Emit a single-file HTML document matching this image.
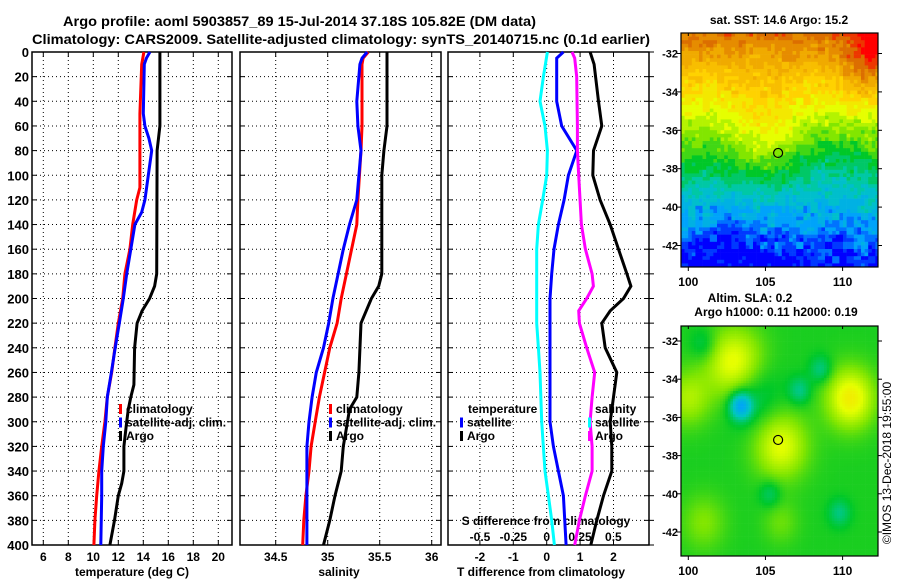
<!DOCTYPE html>
<html><head><meta charset="utf-8"><style>
body{margin:0;background:#fff;}
svg{display:block;font-family:"Liberation Sans",sans-serif;font-weight:bold;}
</style></head><body>
<svg id="chart" width="900" height="580" viewBox="0 0 900 580" xmlns="http://www.w3.org/2000/svg">
<rect width="900" height="580" fill="#fff"/>
<text x="63" y="26" font-size="14" textLength="473" lengthAdjust="spacingAndGlyphs">Argo profile: aoml 5903857_89 15-Jul-2014 37.18S 105.82E (DM data)</text>
<text x="32" y="44" font-size="14" textLength="618" lengthAdjust="spacingAndGlyphs">Climatology: CARS2009. Satellite-adjusted climatology: synTS_20140715.nc (0.1d earlier)</text>
<g id="g"></g>
</svg>
<script>
// ---- data ----
const tempDepths = [0,10,50,110,120,140,160,180,200,220,240,260,280,300,320,340,360,380,400];
const tempClim   = [14.05,13.87,13.73,13.73,13.47,13.15,12.93,12.53,12.35,12.0,11.73,11.47,11.12,10.93,10.67,10.45,10.27,10.13,10.05];
const tempSatDepths = [0,5,10,50,60,70,80,100,120,130,140,160,180,200,220,240,260,280,300,320,340,360,400];
const tempSat    = [14.53,14.25,14.08,14.0,14.13,14.45,14.67,14.4,14.13,13.87,13.33,13.0,12.67,12.4,12.08,11.75,11.45,11.12,11.0,10.8,10.67,10.67,10.6];
const tempArgoDepths = [0,60,80,180,190,200,210,220,240,270,280,290,300,320,340,350,360,380,400];
const tempArgo   = [15.33,15.33,15.1,15.07,14.9,14.5,13.9,13.5,13.3,13.25,13.0,12.8,12.67,12.45,12.45,12.27,12.0,11.7,11.33];
const salDepths = [0,5,10,40,60,80,120,140,160,180,200,220,240,260,280,300,320,340,360,380,400];
const salClim = [35.39,35.34,35.33,35.33,35.33,35.32,35.29,35.28,35.23,35.18,35.13,35.09,35.02,34.97,34.92,34.88,34.84,34.82,34.79,34.77,34.76];
const salSat  = [35.38,35.33,35.31,35.28,35.29,35.32,35.28,35.21,35.15,35.10,35.05,35.01,34.96,34.89,34.85,34.82,34.80,34.80,34.80,34.80,34.80];
const salArgoDepths = [0,60,80,100,180,190,200,220,260,280,290,300,320,340,360,380,400];
const salArgo = [35.57,35.57,35.54,35.52,35.52,35.49,35.42,35.32,35.30,35.28,35.21,35.19,35.15,35.13,35.07,35.02,34.96];
const dDepths = [0,10,40,60,80,100,120,140,160,180,190,200,210,220,240,260,280,300,320,340,360,380,400];
const dTArgo = [1.30,1.42,1.55,1.65,1.4,1.38,1.6,1.9,2.15,2.4,2.52,2.3,1.9,1.65,1.75,2.1,2.0,1.9,1.95,1.95,1.7,1.5,1.32];
const dTSatDepths = [0,5,40,60,80,100,120,140,160,180,200,260,300,320,340,360,400];
const dTSat = [0.5,0.3,0.3,0.45,0.9,0.65,0.52,0.35,0.22,0.15,0.1,0.1,0.1,0.2,0.35,0.5,0.58];
const dSDepths = [0,5,20,60,80,100,140,160,180,190,200,210,220,240,260,280,300,320,340,360,380,400];
const dSArgo = [0.19,0.21,0.225,0.23,0.23,0.24,0.26,0.29,0.34,0.35,0.30,0.24,0.245,0.30,0.36,0.34,0.325,0.34,0.34,0.29,0.245,0.21];
const dSSatDepths = [0,20,40,60,80,100,120,140,160,220,240,260,300,340,360,380,400];
const dSSat = [0.005,-0.025,-0.05,-0.0125,0.005,0,-0.03,-0.0625,-0.075,-0.075,-0.0625,-0.05,-0.0375,-0.0125,0.0125,0.0375,0.0575];
const depthTicks = [0,20,40,60,80,100,120,140,160,180,200,220,240,260,280,300,320,340,360,380,400];
const tempTicks = [6,8,10,12,14,16,18,20];
const salTicks = [34.5,35,35.5,36];
const dTTicks = [-2,-1,0,1,2];
const dSTicks = [-0.5,-0.25,0,0.25,0.5];
const dSTickLabels = ["-0.5","-0.25","0","0.25","0.5"];
const latTicks = [-32,-34,-36,-38,-40,-42];
const lonTicks = [100,105,110];

const NS="http://www.w3.org/2000/svg";
const G=document.getElementById('g');
function el(tag,attrs,parent){const e=document.createElementNS(NS,tag);for(const k in attrs)e.setAttribute(k,attrs[k]);(parent||G).appendChild(e);return e;}
const yTop=52,yBot=545;
const yD=d=>yTop+(d/400)*(yBot-yTop);
const P1={l:32,r:232}, P2={l:240,r:441}, P3={l:448,r:649};
const xT=v=>43.3+(v-6)*12.5;
const xS=v=>275.7+(v-34.5)*104;
const xDT=v=>546.7+v*33.4;
const xDS=v=>546.7+v*133.4;

function grid(P,xs,xf){
  const g=el('g',{});
  
  
  xs.forEach(v=>el('line',{x1:xf(v),x2:xf(v),y1:yTop,y2:yBot,stroke:'#000','stroke-width':1,'stroke-dasharray':'1,3'},g));
  depthTicks.slice(1,-1).forEach(d=>el('line',{x1:P.l,x2:P.r,y1:yD(d),y2:yD(d),stroke:'#000','stroke-width':1,'stroke-dasharray':'1,3'},g));
  depthTicks.forEach(d=>{el('line',{x1:P.l,x2:P.l+5,y1:yD(d),y2:yD(d),stroke:'#000'},g);el('line',{x1:P.r-5,x2:P.r,y1:yD(d),y2:yD(d),stroke:'#000'},g);});
  xs.forEach(v=>{el('line',{x1:xf(v),x2:xf(v),y1:yBot-5,y2:yBot,stroke:'#000'},g);el('line',{x1:xf(v),x2:xf(v),y1:yTop,y2:yTop+5,stroke:'#000'},g);});
  const b=el('rect',{x:P.l,y:yTop,width:P.r-P.l,height:yBot-yTop,fill:'none',stroke:'#000','stroke-width':1.5});
  
  
}
function line(name,ds,vs,xf,color){
  const p=el('polyline',{points:ds.map((d,i)=>xf(vs[i]).toFixed(1)+','+yD(d).toFixed(1)).join(' '),fill:'none',stroke:color,'stroke-width':3});
  
  
}
function txt(name,x,y,s,size,anchor){
  const t=el('text',{x:x,y:y,'font-size':size||12,'text-anchor':anchor||'start'});
  t.textContent=s;
  
  
  return t;
}
function legMark(x,y,color){el('rect',{x:x,y:y-9,width:3,height:10,fill:color});}
const legY=[413,426.5,440];

// Panel 1
grid(P1,tempTicks,xT);
depthTicks.forEach(d=>txt('depth-tick-label',29,yD(d)+5,String(d),13,'end'));
tempTicks.forEach(v=>txt('temp-tick-label',xT(v),561,String(v),12,'middle'));
txt('x-axis-title-temperature',132,576,'temperature (deg C)',12,'middle');
line('temp-climatology',tempDepths,tempClim,xT,'#f00');
line('temp-satellite-adj',tempSatDepths,tempSat,xT,'#00f');
line('temp-argo',tempArgoDepths,tempArgo,xT,'#000');
[['climatology','#f00'],['satellite-adj. clim.','#00f'],['Argo','#000']].forEach((e,i)=>{legMark(119,legY[i],e[1]);txt('legend-entry',126,legY[i],e[0],12);});

// Panel 2
grid(P2,salTicks,xS);
salTicks.forEach(v=>txt('sal-tick-label',xS(v),561,String(v),12,'middle'));
txt('x-axis-title-salinity',339,576,'salinity',12,'middle');
line('sal-climatology',salDepths,salClim,xS,'#f00');
line('sal-satellite-adj',salDepths,salSat,xS,'#00f');
line('sal-argo',salArgoDepths,salArgo,xS,'#000');
[['climatology','#f00'],['satellite-adj. clim.','#00f'],['Argo','#000']].forEach((e,i)=>{legMark(329,legY[i],e[1]);txt('legend-entry',336,legY[i],e[0],12);});

// Panel 3
grid(P3,dTTicks,xDT);
depthTicks.forEach(d=>el('line',{x1:P3.r,x2:P3.r+5,y1:yD(d),y2:yD(d),stroke:'#000'}));
dTTicks.forEach(v=>txt('dt-tick-label',xDT(v),561,String(v),12,'middle'));
txt('x-axis-title-tdiff',541,576,'T difference from climatology',12,'middle');
txt('s-axis-title',546,525,'S difference from climatology',12,'middle');
dSTicks.forEach((v,i)=>txt('ds-tick-label',xDS(v),541,dSTickLabels[i],12,'middle'));
line('sdiff-satellite',dSSatDepths,dSSat,xDS,'#0ff');
line('tdiff-satellite',dTSatDepths,dTSat,xDT,'#00f');
line('sdiff-argo',dSDepths,dSArgo,xDS,'#f0f');
line('tdiff-argo',dDepths,dTArgo,xDT,'#000');
txt('legend-title-temperature',468,legY[0],'temperature',12);
legMark(460,legY[1],'#00f');txt('legend-entry',467,legY[1],'satellite',12);
legMark(460,legY[2],'#000');txt('legend-entry',467,legY[2],'Argo',12);
txt('legend-title-salinity',595,legY[0],'salinity',12);
legMark(588,legY[1],'#0ff');txt('legend-entry',595,legY[1],'satellite',12);
legMark(588,legY[2],'#f0f');txt('legend-entry',595,legY[2],'Argo',12);

// ---- maps ----
const stops=[[0,[0,0,255]],[0.14,[0,160,255]],[0.28,[0,200,190]],[0.4,[0,200,40]],[0.5,[130,230,0]],[0.6,[230,255,0]],[0.7,[255,210,0]],[0.8,[240,170,0]],[0.9,[220,110,0]],[1,[255,0,0]]];
function cmap(v){v=Math.max(0,Math.min(1,v));for(let i=1;i<stops.length;i++){if(v<=stops[i][0]){const a=stops[i-1],b=stops[i],t=(v-a[0])/(b[0]-a[0]);return 'rgb('+a[1].map((c,k)=>Math.round(c+(b[1][k]-c)*t)).join(',')+')';}}return 'rgb(255,0,0)';}
function hash(i,j){let h=(i*374761393+j*668265263)>>>0;h=((h^(h>>>13))*1274126177)>>>0;return ((h^(h>>>16))>>>0)/4294967296;}
function gauss(x,y,cx,cy,s){return Math.exp(-((x-cx)*(x-cx)+(y-cy)*(y-cy))/(2*s*s));}
function drawMap(name,top,bot,lat32y,pxDeg,field,cell){
  const mx0=681,mx1=878;
  const xL=lo=>688.3+(lo-100)*15.43;
  const yL=la=>lat32y+(-32-la)*pxDeg;
  const g=el('g',{});
  
  
  const nx=Math.ceil((mx1-mx0)/cell),ny=Math.ceil((bot-top)/cell);
  for(let i=0;i<nx;i++)for(let j=0;j<ny;j++){
    const px=mx0+i*cell,py=top+j*cell;
    const lo=100+(px+cell/2-688.3)/15.43, la=-32-(py+cell/2-lat32y)/pxDeg;
    el('rect',{x:px,y:py,width:Math.min(cell,mx1-px)+0.3,height:Math.min(cell,bot-py)+0.3,fill:cmap(field(lo,la,i,j))},g);
  }
  el('rect',{x:mx0,y:top,width:mx1-mx0,height:bot-top,fill:'none',stroke:'#000','stroke-width':1.2},g);
  latTicks.forEach(la=>{el('line',{x1:mx0-4,x2:mx0,y1:yL(la),y2:yL(la),stroke:'#000'},g);el('line',{x1:mx1,x2:mx1+4,y1:yL(la),y2:yL(la),stroke:'#000'},g);txt('lat-tick-label',678,yL(la)+4,String(la),11,'end');});
  lonTicks.forEach(lo=>{el('line',{x1:xL(lo),x2:xL(lo),y1:bot,y2:bot+4,stroke:'#000'},g);el('line',{x1:xL(lo),x2:xL(lo),y1:top,y2:top+3,stroke:'#000'},g);txt('lon-tick-label',xL(lo),bot+19,String(lo),12,'middle');});
  const c=el('circle',{cx:xL(105.82),cy:yL(-37.18),r:4.5,fill:'none',stroke:'#000','stroke-width':1.2},g);
  
  
}
function sst(lo,la,i,j){
  let v=0.82-(-32-la)*0.074;
  v+=0.12*gauss(lo,la,105,-36.2,1.5);
  v+=0.12*gauss(lo,la,111.5,-32.8,1.2)+0.12*gauss(lo,la,112,-31.5,0.8);
  v-=0.05*gauss(lo,la,109,-37.8,1.8);
  v-=0.06*gauss(lo,la,102,-42,2);
  const south=la<-40?0.14:0.05;
  v+=(hash(i,j)-0.5)*0.06+(hash(i>>1,j>>1)-0.5)*south;
  return Math.round(v*20)/20;
}
function sla(lo,la,i,j){
  let v=0.42;
  v+=0.2*gauss(lo,la,103,-33.2,1.3)+0.18*gauss(lo,la,106,-37.5,1.2)+0.22*gauss(lo,la,110.5,-35,1.1)+0.12*gauss(lo,la,100,-35,1);
  v+=0.08*gauss(lo,la,101,-41.5,1)+0.06*gauss(lo,la,106,-41.5,0.8);
  v-=0.25*gauss(lo,la,103.4,-35.4,0.5)+0.08*gauss(lo,la,104.2,-34.8,1.2);
  v-=0.1*gauss(lo,la,108.6,-33.5,0.5)+0.1*gauss(lo,la,107.2,-34.6,0.5)+0.08*gauss(lo,la,105.3,-40,0.5)+0.09*gauss(lo,la,109.8,-41,0.5)+0.07*gauss(lo,la,101,-32.2,0.6);
  return v;
}
drawMap('sst-map',33,267,53.5,19.2,sst,3.6);
drawMap('sla-map',326,556,341,19.1,sla,2.6);
txt('sst-map-title',779,24,'sat. SST: 14.6 Argo: 15.2',12,'middle');
txt('sla-map-title',750,302,'Altim. SLA: 0.2',12,'middle');
txt('sla-map-subtitle',776,316,'Argo h1000: 0.11 h2000: 0.19',12,'middle');
const ts=txt('timestamp',0,0,'©IMOS 13-Dec-2018 19:55:00',12,'middle');
ts.setAttribute('font-weight','normal');
ts.setAttribute('transform','translate(891,463) rotate(-90)');
</script>
</body></html>
